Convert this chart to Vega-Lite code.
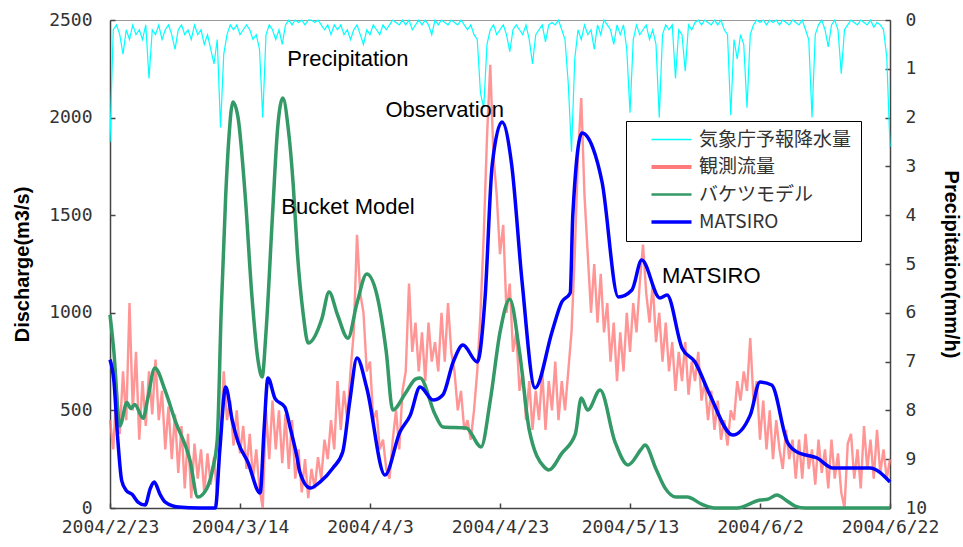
{
"$schema": "https://vega.github.io/schema/vega-lite/v6.json",
"width": 780,
"height": 488,
"autosize": "none",
"padding": {"left": 110, "top": 20, "right": 73, "bottom": 39},
"background": "white",
"config": {
  "view": {"stroke": "#999", "strokeWidth": 1},
  "axis": {"grid": false, "domainColor": "#444", "domainWidth": 1.5, "tickColor": "#444", "tickSize": -5, "tickWidth": 1.5,
    "labelFont": "DejaVu Sans Mono", "labelFontSize": 18, "labelColor": "#333", "labelOverlap": false, "labelFlush": false,
    "titleFont": "Liberation Sans", "titleFontSize": 20, "titleFontWeight": "bold", "titleColor": "#000"}
},
"datasets": {
  "h": [
{"d":0,"o":450,"p":2.5},{"d":0.5,"o":300,"p":0.2},{"d":1,"o":620,"p":0.1},{"d":1.5,"o":380,"p":0.3},{"d":2,"o":700,"p":0.7},{"d":2.5,"o":450,"p":0.2},{"d":3,"o":1050,"p":0.4},{"d":3.5,"o":500,"p":0.1},{"d":4,"o":800,"p":0.3},{"d":4.5,"o":350,"p":0.2},
{"d":5,"o":650,"p":0.4},{"d":5.5,"o":420,"p":0.1},{"d":6,"o":700,"p":1.2},{"d":6.5,"o":480,"p":0.2},{"d":7,"o":760,"p":0.3},{"d":7.5,"o":450,"p":0.1},{"d":8,"o":600,"p":0.4},{"d":8.5,"o":300,"p":0.2},{"d":9,"o":520,"p":0.1},{"d":9.5,"o":250,"p":0.3},
{"d":10,"o":480,"p":0.6},{"d":10.5,"o":180,"p":0.2},{"d":11,"o":420,"p":0.1},{"d":11.5,"o":100,"p":0.3},{"d":12,"o":380,"p":0.2},{"d":12.5,"o":50,"p":0.4},{"d":13,"o":330,"p":0.1},{"d":13.5,"o":150,"p":0.3},{"d":14,"o":300,"p":0.2},{"d":14.5,"o":80,"p":0.5},
{"d":15,"o":280,"p":0.3},{"d":15.5,"o":120,"p":0.6},{"d":16,"o":260,"p":0.9},{"d":16.5,"o":60,"p":0.4},{"d":17,"o":350,"p":2.2},{"d":17.5,"o":700,"p":0.7},{"d":18,"o":450,"p":0.3},{"d":18.5,"o":550,"p":0.1},{"d":19,"o":320,"p":0.2},{"d":19.5,"o":500,"p":0.1},
{"d":20,"o":280,"p":0.3},{"d":20.5,"o":420,"p":0.2},{"d":21,"o":200,"p":0.1},{"d":21.5,"o":380,"p":0.2},{"d":22,"o":150,"p":0.4},{"d":22.5,"o":300,"p":0.3},{"d":23,"o":100,"p":0.6},{"d":23.5,"o":0,"p":2.0},{"d":24,"o":500,"p":0.3},{"d":24.5,"o":250,"p":0.1},
{"d":25,"o":550,"p":0.2},{"d":25.5,"o":300,"p":0.4},{"d":26,"o":500,"p":0.2},{"d":26.5,"o":230,"p":0.5},{"d":27,"o":480,"p":0.1},{"d":27.5,"o":200,"p":0},{"d":28,"o":450,"p":0.1},{"d":28.5,"o":150,"p":0},{"d":29,"o":300,"p":0.05},{"d":29.5,"o":80,"p":0},
{"d":30,"o":250,"p":0.1},{"d":30.5,"o":50,"p":0},{"d":31,"o":200,"p":0},{"d":31.5,"o":100,"p":0.05},{"d":32,"o":260,"p":0},{"d":32.5,"o":150,"p":0.1},{"d":33,"o":350,"p":0.2},{"d":33.5,"o":250,"p":0.1},{"d":34,"o":450,"p":0.3},{"d":34.5,"o":300,"p":0.1},
{"d":35,"o":650,"p":0.2},{"d":35.5,"o":400,"p":0.1},{"d":36,"o":600,"p":0.3},{"d":36.5,"o":450,"p":0.2},{"d":37,"o":700,"p":0.4},{"d":37.5,"o":900,"p":0.2},{"d":38,"o":1400,"p":0.1},{"d":38.5,"o":1100,"p":0.3},{"d":39,"o":1000,"p":0.5},{"d":39.5,"o":700,"p":0.2},
{"d":40,"o":750,"p":0.3},{"d":40.5,"o":450,"p":0.1},{"d":41,"o":500,"p":0.2},{"d":41.5,"o":300,"p":0.3},{"d":42,"o":350,"p":0.1},{"d":42.5,"o":200,"p":0.2},{"d":43,"o":150,"p":0.1},{"d":43.5,"o":350,"p":0},{"d":44,"o":500,"p":0.05},{"d":44.5,"o":300,"p":0.1},
{"d":45,"o":600,"p":0},{"d":45.5,"o":700,"p":0.1},{"d":46,"o":1150,"p":0},{"d":46.5,"o":800,"p":0.2},{"d":47,"o":950,"p":0.1},{"d":47.5,"o":700,"p":0},{"d":48,"o":900,"p":0.1},{"d":48.5,"o":650,"p":0},{"d":49,"o":950,"p":0.1},{"d":49.5,"o":750,"p":0.3},
{"d":50,"o":850,"p":0},{"d":50.5,"o":700,"p":0.1},{"d":51,"o":1000,"p":0},{"d":51.5,"o":750,"p":0.05},{"d":52,"o":1050,"p":0.1},{"d":52.5,"o":800,"p":0},{"d":53,"o":700,"p":0.05},{"d":53.5,"o":500,"p":0.1},{"d":54,"o":600,"p":0},{"d":54.5,"o":400,"p":0.1},
{"d":55,"o":450,"p":0.2},{"d":55.5,"o":350,"p":0.1},{"d":56,"o":500,"p":0.3},{"d":56.5,"o":700,"p":0.4},{"d":57,"o":1000,"p":1.5},{"d":57.5,"o":1400,"p":1.8},{"d":58,"o":1900,"p":0.5},{"d":58.5,"o":2270,"p":0.2},{"d":59,"o":1800,"p":0.1},{"d":59.5,"o":1600,"p":0.3},
{"d":60,"o":1300,"p":0.2},{"d":60.5,"o":1450,"p":0.1},{"d":61,"o":1000,"p":0.3},{"d":61.5,"o":1150,"p":0.65},{"d":62,"o":800,"p":0.2},{"d":62.5,"o":900,"p":0.1},{"d":63,"o":600,"p":0.2},{"d":63.5,"o":700,"p":0.3},{"d":64,"o":450,"p":0.1},{"d":64.5,"o":650,"p":0.4},
{"d":65,"o":400,"p":0.9},{"d":65.5,"o":600,"p":0.3},{"d":66,"o":450,"p":0.2},{"d":66.5,"o":700,"p":0.1},{"d":67,"o":400,"p":0.45},{"d":67.5,"o":650,"p":0.1},{"d":68,"o":500,"p":0.05},{"d":68.5,"o":750,"p":0.1},{"d":69,"o":450,"p":0},{"d":69.5,"o":650,"p":0.2},
{"d":70,"o":500,"p":0.4},{"d":70.5,"o":700,"p":1.3},{"d":71,"o":900,"p":2.7},{"d":71.5,"o":1300,"p":0.8},{"d":72,"o":1800,"p":0.2},{"d":72.5,"o":2100,"p":0.4},{"d":73,"o":1600,"p":0.1},{"d":73.5,"o":1300,"p":0.3},{"d":74,"o":1000,"p":0.2},{"d":74.5,"o":1250,"p":0.6},
{"d":75,"o":950,"p":0.1},{"d":75.5,"o":1200,"p":0.3},{"d":76,"o":900,"p":0},{"d":76.5,"o":1050,"p":0.1},{"d":77,"o":750,"p":0.2},{"d":77.5,"o":950,"p":0.5},{"d":78,"o":650,"p":0.1},{"d":78.5,"o":900,"p":0.3},{"d":79,"o":700,"p":0.1},{"d":79.5,"o":1000,"p":0.6},
{"d":80,"o":800,"p":1.9},{"d":80.5,"o":1050,"p":0.4},{"d":81,"o":900,"p":0.1},{"d":81.5,"o":1150,"p":0.3},{"d":82,"o":1350,"p":0.2},{"d":82.5,"o":1100,"p":0.1},{"d":83,"o":950,"p":0.4},{"d":83.5,"o":1150,"p":0.2},{"d":84,"o":850,"p":0.5},{"d":84.5,"o":1000,"p":2.0},
{"d":85,"o":750,"p":0.3},{"d":85.5,"o":950,"p":0.1},{"d":86,"o":700,"p":0.2},{"d":86.5,"o":850,"p":0.1},{"d":87,"o":600,"p":1.2},{"d":87.5,"o":800,"p":0.2},{"d":88,"o":650,"p":0.3},{"d":88.5,"o":850,"p":1.05},{"d":89,"o":580,"p":0.1},{"d":89.5,"o":750,"p":0.2},
{"d":90,"o":650,"p":0.05},{"d":90.5,"o":800,"p":0},{"d":91,"o":550,"p":0.1},{"d":91.5,"o":650,"p":0},{"d":92,"o":450,"p":0.05},{"d":92.5,"o":600,"p":0.1},{"d":93,"o":400,"p":0},{"d":93.5,"o":550,"p":0.1},{"d":94,"o":350,"p":0},{"d":94.5,"o":450,"p":0.2},
{"d":95,"o":320,"p":0.3},{"d":95.5,"o":500,"p":1.95},{"d":96,"o":450,"p":0.4},{"d":96.5,"o":650,"p":0.8},{"d":97,"o":550,"p":0.3},{"d":97.5,"o":700,"p":0.5},{"d":98,"o":600,"p":1.8},{"d":98.5,"o":870,"p":0.3},{"d":99,"o":550,"p":0.1},{"d":99.5,"o":650,"p":0},
{"d":100,"o":350,"p":0.05},{"d":100.5,"o":550,"p":0},{"d":101,"o":300,"p":0.1},{"d":101.5,"o":500,"p":0},{"d":102,"o":250,"p":0.05},{"d":102.5,"o":450,"p":0},{"d":103,"o":300,"p":0.1},{"d":103.5,"o":200,"p":0},{"d":104,"o":400,"p":0.05},{"d":104.5,"o":250,"p":0.1},
{"d":105,"o":350,"p":0},{"d":105.5,"o":150,"p":0.05},{"d":106,"o":350,"p":0.1},{"d":106.5,"o":150,"p":0},{"d":107,"o":380,"p":0.2},{"d":107.5,"o":200,"p":0.4},{"d":108,"o":300,"p":2.0},{"d":108.5,"o":120,"p":0.3},{"d":109,"o":350,"p":0.1},{"d":109.5,"o":180,"p":0},
{"d":110,"o":300,"p":0.2},{"d":110.5,"o":100,"p":0.55},{"d":111,"o":350,"p":0.1},{"d":111.5,"o":150,"p":0},{"d":112,"o":280,"p":0.2},{"d":112.5,"o":80,"p":1.1},{"d":113,"o":0,"p":0.2},{"d":113.5,"o":330,"p":0.1},{"d":114,"o":380,"p":0},{"d":114.5,"o":150,"p":0.05},
{"d":115,"o":300,"p":0.1},{"d":115.5,"o":100,"p":0},{"d":116,"o":420,"p":0.05},{"d":116.5,"o":200,"p":0.1},{"d":117,"o":350,"p":0},{"d":117.5,"o":150,"p":0.15},{"d":118,"o":400,"p":0.05},{"d":118.5,"o":180,"p":0.1},{"d":119,"o":300,"p":0.2},{"d":119.5,"o":150,"p":0.75},
{"d":120,"o":250,"p":2.6}
  ],
  "bucket": [
{"d":0,"v":990},{"d":0.6,"v":800},{"d":1.5,"v":420},{"d":2.6,"v":540},{"d":3.2,"v":510},{"d":3.8,"v":530},{"d":5.1,"v":460},{"d":5.8,"v":560},{"d":6.9,"v":717},{"d":8.5,"v":600},
{"d":10,"v":450},{"d":12.3,"v":245},{"d":13.5,"v":56},{"d":14.9,"v":100},{"d":15.8,"v":200},{"d":16.5,"v":350},{"d":17.1,"v":1000},{"d":17.8,"v":1600},{"d":18.3,"v":1900},{"d":18.9,"v":2080},
{"d":19.7,"v":2000},{"d":20.8,"v":1600},{"d":21.8,"v":1100},{"d":22.8,"v":750},{"d":23.4,"v":671},{"d":24,"v":900},{"d":25,"v":1500},{"d":25.8,"v":1950},{"d":26.6,"v":2100},{"d":27.4,"v":1950},
{"d":28.2,"v":1650},{"d":28.8,"v":1320},{"d":29.7,"v":1000},{"d":30.5,"v":845},{"d":32.6,"v":970},{"d":33.7,"v":1107},{"d":35,"v":990},{"d":36.6,"v":870},{"d":38,"v":1050},{"d":39.5,"v":1199},
{"d":41,"v":1100},{"d":42.5,"v":800},{"d":43.5,"v":502},{"d":45.5,"v":590},{"d":47,"v":660},{"d":47.7,"v":666},{"d":50,"v":480},{"d":51.2,"v":415},{"d":54.8,"v":410},{"d":57.1,"v":313},
{"d":58.5,"v":550},{"d":60,"v":900},{"d":61.5,"v":1070},{"d":63,"v":800},{"d":64.5,"v":400},{"d":66.8,"v":210},{"d":67.5,"v":195},{"d":69.5,"v":280},{"d":71.6,"v":380},{"d":72.5,"v":563},
{"d":73.5,"v":502},{"d":75.4,"v":604},{"d":77.7,"v":338},{"d":79.7,"v":220},{"d":81.7,"v":300},{"d":82.3,"v":323},{"d":84,"v":200},{"d":85.4,"v":102},{"d":87.1,"v":56},{"d":88.8,"v":56},
{"d":91,"v":20},{"d":93,"v":0},{"d":96.5,"v":0},{"d":100,"v":41},{"d":101.2,"v":45},{"d":102.6,"v":67},{"d":104,"v":40},{"d":105.4,"v":10},{"d":107,"v":0},{"d":120,"v":0}
  ],
  "matsiro": [
{"d":0,"v":760},{"d":0.6,"v":650},{"d":1.2,"v":350},{"d":1.8,"v":140},{"d":2.5,"v":90},{"d":3.4,"v":70},{"d":4.3,"v":30},{"d":5.4,"v":15},{"d":6.2,"v":100},{"d":6.8,"v":133},
{"d":7.7,"v":70},{"d":8.5,"v":30},{"d":10.5,"v":5},{"d":13.8,"v":0},{"d":16.2,"v":0},{"d":16.9,"v":300},{"d":17.8,"v":620},{"d":18.8,"v":450},{"d":19.7,"v":338},{"d":21.2,"v":236},
{"d":23.1,"v":77},{"d":23.7,"v":400},{"d":24.3,"v":666},{"d":25.4,"v":560},{"d":26.9,"v":517},{"d":27.8,"v":400},{"d":28.8,"v":256},{"d":29.2,"v":184},{"d":30.8,"v":102},{"d":32.3,"v":133},
{"d":34.3,"v":205},{"d":35.8,"v":287},{"d":36.9,"v":550},{"d":38,"v":768},{"d":39.5,"v":615},{"d":42.3,"v":169},{"d":44.6,"v":389},{"d":46.2,"v":476},{"d":47.7,"v":620},{"d":49.7,"v":553},
{"d":51.2,"v":579},{"d":52.8,"v":748},{"d":54.3,"v":835},{"d":56.5,"v":748},{"d":57.7,"v":1076},{"d":58.8,"v":1757},{"d":60.3,"v":1977},{"d":61.8,"v":1757},{"d":63.4,"v":1158},{"d":65.4,"v":615},
{"d":68,"v":902},{"d":69.5,"v":1055},{"d":70.8,"v":1101},{"d":71.2,"v":1500},{"d":72.6,"v":1921},{"d":74.3,"v":1844},{"d":75.7,"v":1670},{"d":78.2,"v":1081},{"d":80.3,"v":1117},{"d":81.8,"v":1270},
{"d":84.6,"v":1076},{"d":85.7,"v":1091},{"d":88,"v":820},{"d":90,"v":748},{"d":92.3,"v":579},{"d":95.8,"v":374},{"d":98.5,"v":476},{"d":100,"v":645},{"d":101.8,"v":630},{"d":104.2,"v":338},
{"d":105.7,"v":287},{"d":108.8,"v":256},{"d":111.2,"v":205},{"d":116.9,"v":205},{"d":120,"v":133}
  ],
  "ann": [
{"d":36.6,"v":2300,"t":"Precipitation"},
{"d":51.5,"v":2039,"t":"Observation"},
{"d":36.6,"v":1542,"t":"Bucket Model"},
{"d":92.5,"v":1189,"t":"MATSIRO"}
  ]
},
"encoding": {
  "x": {"field": "d", "type": "quantitative", "scale": {"domain": [0, 120], "nice": false},
    "axis": {"title": null, "values": [0, 20, 40, 60, 80, 100, 120], "labelPadding": 15,
      "labelExpr": "timeFormat(datetime(2004, 1, 23 + datum.value), '%Y/%-m/%-d')"}}
},
"layer": [
  {
    "data": {"name": "h"},
    "mark": {"type": "line", "strokeWidth": 1.2},
    "encoding": {
      "y": {"field": "p", "type": "quantitative", "scale": {"domain": [0, 10], "reverse": true, "nice": false},
        "axis": {"orient": "right", "title": "Precipitation(mm/h)", "values": [0,1,2,3,4,5,6,7,8,9,10], "labelPadding": 20, "titlePadding": 14, "format": "d"}},
      "color": {"datum": "気象庁予報降水量", "type": "nominal",
        "scale": {"domain": ["気象庁予報降水量", "観測流量", "バケツモデル", "MATSIRO"], "range": ["#00ffff", "#ff7a7a", "#339966", "#0000ff"]},
        "legend": {"orient": "none", "legendX": 516, "legendY": 101, "title": null, "symbolType": "stroke", "symbolSize": 1600,
          "symbolStrokeWidth": 2.5, "labelFont": "Noto Sans CJK JP", "labelFontSize": 19, "labelColor": "#333", "padding": 9,
          "rowPadding": 7.5, "labelOffset": 18, "strokeColor": "#000", "fillColor": "#fff", "symbolOffset": 27, "labelLimit": 300,
          "encode": {
            "symbols": {"update": {"strokeWidth": {"signal": "datum.label === 'MATSIRO' ? 3.5 : datum.label === '観測流量' ? 4 : datum.label === 'バケツモデル' ? 2.5 : 1.5"}}}
          }}}
    }
  },
  {
    "layer": [
      {
        "data": {"name": "h"},
        "mark": {"type": "line", "strokeWidth": 2.4, "opacity": 0.8},
        "encoding": {
          "y": {"field": "o", "type": "quantitative", "scale": {"domain": [0, 2500], "nice": false},
            "axis": {"orient": "left", "title": "Discharge(m3/s)", "values": [0, 500, 1000, 1500, 2000, 2500], "labelPadding": 23, "titlePadding": 16, "format": "d"}},
          "color": {"datum": "観測流量", "type": "nominal"}
        }
      },
      {
        "data": {"name": "bucket"},
        "mark": {"type": "line", "strokeWidth": 3.5, "interpolate": "monotone"},
        "encoding": {
          "y": {"field": "v", "type": "quantitative", "scale": {"domain": [0, 2500], "nice": false},
            "axis": {"orient": "left", "title": "Discharge(m3/s)", "values": [0, 500, 1000, 1500, 2000, 2500], "labelPadding": 23, "titlePadding": 16, "format": "d"}},
          "color": {"datum": "バケツモデル", "type": "nominal"}
        }
      },
      {
        "data": {"name": "matsiro"},
        "mark": {"type": "line", "strokeWidth": 3.5, "interpolate": "monotone"},
        "encoding": {
          "y": {"field": "v", "type": "quantitative", "scale": {"domain": [0, 2500], "nice": false},
            "axis": {"orient": "left", "title": "Discharge(m3/s)", "values": [0, 500, 1000, 1500, 2000, 2500], "labelPadding": 23, "titlePadding": 16, "format": "d"}},
          "color": {"datum": "MATSIRO", "type": "nominal"}
        }
      },
      {
        "data": {"name": "ann"},
        "mark": {"type": "text", "font": "Liberation Sans", "fontSize": 22, "color": "#000", "align": "center", "baseline": "middle"},
        "encoding": {
          "y": {"field": "v", "type": "quantitative", "scale": {"domain": [0, 2500], "nice": false},
            "axis": {"orient": "left", "title": "Discharge(m3/s)", "values": [0, 500, 1000, 1500, 2000, 2500], "labelPadding": 23, "titlePadding": 16, "format": "d"}},
          "text": {"field": "t"}
        }
      }
    ]
  }
],
"resolve": {"scale": {"y": "independent"}}
}
